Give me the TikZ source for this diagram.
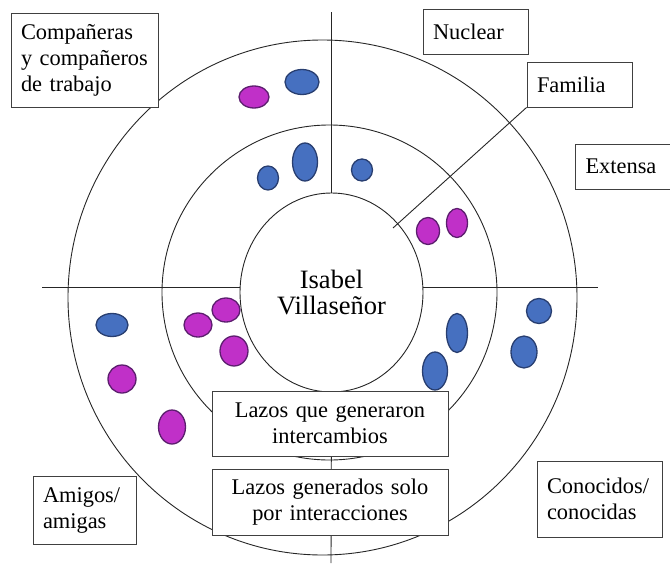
\documentclass[tikz,border=0pt]{standalone}
\usepackage{fontspec}
\setmainfont{Liberation Serif}
\usetikzlibrary{shapes.geometric}

\definecolor{azul}{RGB}{70,112,192}
\definecolor{azulb}{RGB}{40,62,112}
\definecolor{magen}{RGB}{192,48,200}
\definecolor{magenb}{RGB}{92,30,110}

\tikzstyle{anillo} = [ellipse, draw=black!85, line width=0.9pt, inner sep=0pt]
\tikzstyle{caja} = [rectangle, draw=black!75, fill=white, line width=0.8pt,
    inner xsep=10pt, inner ysep=0pt, align=left]
\tikzstyle{cajac} = [caja, align=center]
\tikzstyle{pazul} = [ellipse, draw=azulb, fill=azul, line width=1.3pt, inner sep=0pt]
\tikzstyle{pmag} = [ellipse, draw=magenb, fill=magen, line width=1.3pt, inner sep=0pt]
\tikzstyle{linea} = [draw=black!85, line width=0.9pt]

\begin{document}
\begin{tikzpicture}[x=1pt, y=-1pt, font=\fontsize{22.4}{26}\selectfont]
	\useasboundingbox (0,0) rectangle (670,565);
	\node [anillo, minimum width=509pt, minimum height=515pt] (cext) at (322.5,297.5) {};
	\node [anillo, minimum width=335pt, minimum height=335pt] (cmed) at (329.5,292.5) {};
	%
	\coordinate (hizq) at (42,287);
	\coordinate (hder) at (598,287);
	\coordinate (vsup) at (331,12);
	\coordinate (vinf) at (331,563);
	\coordinate (ffam) at (393,228);
	\node [anillo, fill=white, align=center, minimum width=183pt, minimum height=199pt,
	    font=\fontsize{26.5}{26}\selectfont] (cint) at (331.5,292.5) {Isabel\\Villaseñor};
	\draw [linea] (hizq) -- (hizq -| cint.west);
	\draw [linea] (cint.east |- hder) -- (hder);
	\draw [linea] (vsup) -- (vsup |- cint.north);
	\draw [linea] (cint.south) -- (vinf);
	%
	\node [pazul, minimum width=34pt, minimum height=25pt] (paa) at (302,82) {};
	\node [pmag, minimum width=30pt, minimum height=22pt] (pab) at (254,97) {};
	\node [pazul, minimum width=25pt, minimum height=38pt] (pac) at (305,162) {};
	\node [pazul, minimum width=21pt, minimum height=24pt] (pad) at (268,178) {};
	%
	\node [pazul, minimum width=21pt, minimum height=22pt] (pba) at (362,170) {};
	\node [pmag, minimum width=23pt, minimum height=27pt] (pbb) at (428,231) {};
	\node [pmag, minimum width=21pt, minimum height=29pt] (pbc) at (457,223) {};
	%
	\node [pazul, minimum width=32pt, minimum height=23pt] (pca) at (112,325) {};
	\node [pmag, minimum width=28pt, minimum height=24pt] (pcb) at (198,325) {};
	\node [pmag, minimum width=28pt, minimum height=24pt] (pcc) at (226,310) {};
	\node [pmag, minimum width=28pt, minimum height=30pt] (pcd) at (234,351) {};
	\node [pmag, minimum width=28pt, minimum height=28pt] (pce) at (122,379) {};
	\node [pmag, minimum width=27pt, minimum height=34pt] (pcf) at (172,427) {};
	%
	\node [pazul, minimum width=21pt, minimum height=39pt] (pda) at (457,333) {};
	\node [pazul, minimum width=25pt, minimum height=38pt] (pdb) at (435,371) {};
	\node [pazul, minimum width=25pt, minimum height=25pt] (pdc) at (539,311) {};
	\node [pazul, minimum width=26pt, minimum height=32pt] (pdd) at (524,352) {};
	%
	\node [caja, text width=127pt, minimum height=94pt] (ecomp) at (84.5,60) {Compañeras\\y compañeros\\de trabajo};
	\node [caja, text width=85pt, minimum height=45pt] (enuc) at (475.5,31.5) {Nuclear};
	\node [caja, text width=85pt, minimum height=45pt] (efam) at (579.5,84.5) {Familia};
	\node [caja, text width=84pt, minimum height=45pt] (eext) at (627.5,166.5) {Extensa};
	\draw [linea] (efam.south west) -- (ffam);
	\node [caja, text width=83pt, minimum height=68pt] (eami) at (84.5,510) {Amigos/\\amigas};
	\node [cajac, text width=216pt, minimum height=65pt] (elaa) at (330,423.5) {Lazos que generaron\\intercambios};
	\node [cajac, text width=216pt, minimum height=66pt] (elab) at (330,502) {Lazos generados solo\\por interacciones};
	\node [caja, text width=105pt, minimum height=76pt] (econ) at (599.5,499) {Conocidos/\\conocidas};
\end{tikzpicture}
\end{document}
